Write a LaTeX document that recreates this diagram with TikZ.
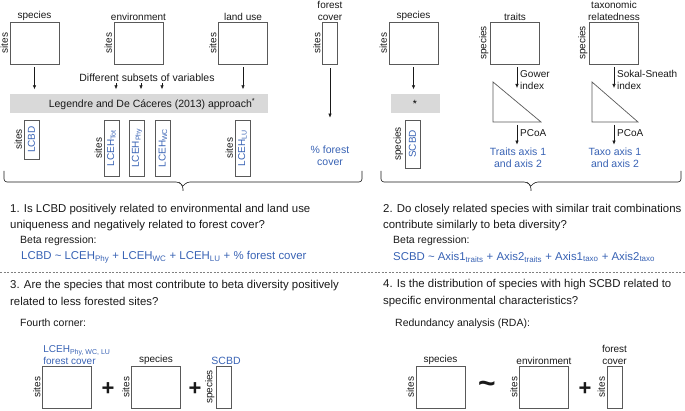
\documentclass[tikz,border=0pt]{standalone}
\usepackage{fontspec}
\setmainfont{Liberation Sans}
\usepackage{tikz}
\usetikzlibrary{positioning,calc,arrows.meta}

\definecolor{axblue}{RGB}{56,98,180}
\definecolor{bargray}{RGB}{217,217,217}
\definecolor{boxline}{RGB}{89,89,89}
\definecolor{inkgray}{RGB}{25,25,25}

\newcommand{\lblsize}{\fontsize{10}{11.5}\selectfont}
\newcommand{\qsize}{\fontsize{11.4}{16.5}\selectfont}
\newcommand{\notesize}{\fontsize{10.5}{12}\selectfont}
\newcommand{\opsize}{\fontsize{22}{22}\selectfont\bfseries}

\tikzset{
  mat/.style={draw=boxline, line width=0.7pt, minimum width=49pt, minimum height=42pt, inner sep=0pt},
  colmat/.style={mat, minimum width=15pt},
  vecbox/.style={draw=boxline, line width=0.7pt, rotate=90, minimum height=15pt, inner sep=0pt, text=axblue, font=\lblsize},
  side/.style={rotate=90, anchor=south, inner sep=1.5pt, font=\lblsize, text=inkgray},
  hdr/.style={font=\lblsize, text=inkgray, inner sep=1pt, align=center},
  bluetxt/.style={text=axblue},
  arr/.style={draw=inkgray, line width=0.6pt, -{Latex[length=4pt,width=3.5pt]}},
  graybar/.style={fill=bargray, inner sep=0pt, minimum height=19pt},
  tri/.style={draw=boxline, line width=0.7pt},
  brc/.style={draw=inkgray, line width=0.6pt, rounded corners=3pt},
  qtext/.style={font=\qsize, text=inkgray, align=left, anchor=west, inner sep=0pt},
  note/.style={font=\notesize, text=inkgray, anchor=west, inner sep=0pt},
  opsign/.style={font=\opsize, text=inkgray, inner sep=0pt}
}

\begin{document}
\begin{tikzpicture}[x=1pt,y=-1pt]
    \useasboundingbox (0,0) rectangle (685,411);

    % Input matrices, left half
    \node[mat] (spA) at (34.5,43) {};
    \node[mat] (envA) at (138.5,43) {};
    \node[mat] (luA) at (243,43) {};
    \node[colmat] (fcA) at (330,43) {};
    \node[hdr, above=0pt of spA] (spAh) {species};
    \node[hdr, above=0pt of envA] (envAh) {environment};
    \node[hdr, above=0pt of luA] (luAh) {land use};
    \node[hdr, above=0pt of fcA] (fcAh) {forest\\cover};
    \foreach \m in {spA,envA,luA,fcA} \node[side] (\m-s) at (\m.west) {sites};

    % Uniqueness approach
    \node[graybar, minimum width=258pt] (lgA) at (139,104) {};
    \node[font=\notesize, text=inkgray, inner sep=0pt] (lgAt) at (152,104) {Legendre and De Cáceres (2013) approach\textsuperscript{*}};
    \node[hdr, font=\notesize] (subs) at (147,78) {Different subsets of variables};
    \draw[arr, shorten <=3pt, shorten >=5pt] (spA) -- (spA |- lgA.north);
    \draw[arr, shorten <=3pt, shorten >=5pt] (luA) -- (luA |- lgA.north);
    \foreach \dx in {-31,-6,15}
        \draw[arr, shorten >=5pt] ([xshift=\dx pt]subs.south) -- ([xshift=\dx pt]subs.south |- lgA.north);

    % Site vectors (rotated nodes: north points left)
    \node[vecbox, minimum width=39pt] (lcbd) at (31.5,139.5) {LCBD};
    \node[vecbox, minimum width=56pt] (lceT) at (111.5,148) {LCEH\textsubscript{Tot}};
    \node[vecbox, minimum width=56pt] (lceP) at (137,148) {LCEH\textsubscript{Phy}};
    \node[vecbox, minimum width=56pt] (lceW) at (163,148) {LCEH\textsubscript{WC}};
    \node[vecbox, minimum width=56pt] (lceL) at (242.5,148) {LCEH\textsubscript{LU}};
    \foreach \m in {lcbd,lceT,lceL} \node[side] (\m-s) at (\m.north) {sites};
    \node[bluetxt, font=\notesize, align=center] (pfc) at (330,156) {\% forest\\cover};
    \draw[arr, shorten <=4pt, shorten >=2pt] (fcA) -- (fcA |- lcbd.east);

    % Input matrices, right half
    \node[mat] (spB) at (413.5,43) {};
    \node[hdr, above=0pt of spB] (spBh) {species};
    \node[side] (spB-s) at (spB.west) {sites};
    \node[graybar, minimum width=49pt, font=\notesize] (starB) at (415,104) {*};
    \draw[arr, shorten <=3pt, shorten >=5pt] (spB) -- (spB |- starB.north);
    \node[vecbox, minimum width=48pt] (scbd) at (412.5,144) {SCBD};
    \node[side] (scbd-s) at (scbd.north) {species};

    % Traits
    \node[mat] (trB) at (515,43) {};
    \node[hdr, above=0pt of trB] (trBh) {traits};
    \node[side] (trB-s) at (trB.west) {species};
    \coordinate (t1a) at (493,82);
    \coordinate (t1b) at (493,122);
    \coordinate (t1c) at (541,122);
    \draw[tri] (t1a) -- (t1b) -- (t1c) -- cycle;
    \coordinate (g1) at (517,88);
    \draw[arr, shorten <=3pt] (trB.south -| g1) -- (g1);
    \node[hdr, anchor=west, align=left] (g1l) at (519,80) {Gower\\index};
    \node[bluetxt, font=\notesize, align=center] (ax1) at (518,158) {Traits axis 1\\and axis 2};
    \coordinate (p1) at (517,125);
    \draw[arr] (p1) -- (ax1.north -| p1);
    \node[hdr, anchor=west] (p1l) at (519,133) {PCoA};

    % Taxonomic relatedness
    \node[mat] (txB) at (614,43) {};
    \node[hdr, above=0pt of txB] (txBh) {taxonomic\\relatedness};
    \node[side] (txB-s) at (txB.west) {species};
    \coordinate (t2a) at (592,82);
    \coordinate (t2b) at (592,122);
    \coordinate (t2c) at (638,122);
    \draw[tri] (t2a) -- (t2b) -- (t2c) -- cycle;
    \coordinate (g2) at (614,88);
    \draw[arr, shorten <=3pt] (txB.south -| g2) -- (g2);
    \node[hdr, anchor=west, align=left] (g2l) at (616,80) {Sokal-Sneath\\index};
    \node[bluetxt, font=\notesize, align=center] (ax2) at (615,158) {Taxo axis 1\\and axis 2};
    \coordinate (p2) at (614,125);
    \draw[arr] (p2) -- (ax2.north -| p2);
    \node[hdr, anchor=west] (p2l) at (616,133) {PCoA};

    % Braces
    \draw[brc] (4,171) -- (4,182) -- (179,182) -- (183,186) -- (183,191);
    \draw[brc] (183,186) -- (187,182) -- (362,182) -- (362,171);
    \draw[brc] (381,171) -- (381,182) -- (527,182) -- (531,186) -- (531,191);
    \draw[brc] (531,186) -- (535,182) -- (681,182) -- (681,171);

    % Questions 1 and 2
    \node[qtext] (q1) at (10,217.5) {1. Is LCBD positively related to environmental and land use\\uniqueness and negatively related to forest cover?};
    \node[note] (q1m) at (20,241) {Beta regression:};
    \node[note, font=\qsize, bluetxt] (q1e) at (21,257) {LCBD \textasciitilde\ LCEH\textsubscript{Phy} + LCEH\textsubscript{WC} + LCEH\textsubscript{LU} + \% forest cover};
    \node[qtext] (q2) at (383,217.5) {2. Do closely related species with similar trait combinations\\contribute similarly to beta diversity?};
    \node[note] (q2m) at (393,241) {Beta regression:};
    \node[note, font=\qsize, bluetxt] (q2e) at (393,257) {SCBD \textasciitilde\ Axis1\textsubscript{traits} + Axis2\textsubscript{traits} + Axis1\textsubscript{taxo} + Axis2\textsubscript{taxo}};

    \draw[draw=gray, line width=0.5pt, dash pattern=on 2pt off 1.5pt] (0,272) -- (685,272);

    % Questions 3 and 4
    \node[qtext] (q3) at (10,293) {3. Are the species that most contribute to beta diversity positively\\related to less forested sites?};
    \node[note] (q3m) at (20,323) {Fourth corner:};
    \node[qtext] (q4) at (383,293) {4. Is the distribution of species with high SCBD related to\\specific environmental characteristics?};
    \node[note] (q4m) at (395,324) {Redundancy analysis (RDA):};

    % Fourth corner
    \node[mat] (fcC) at (67,387) {};
    \node[side] (fcC-s) at (fcC.west) {sites};
    \node[bluetxt, font=\lblsize, anchor=south west, align=left, inner sep=1pt] (fcCh) at (fcC.north west) {LCEH\textsubscript{Phy, WC, LU}\\forest cover};
    \node[opsign] (plC1) at (108,389) {+};
    \node[mat] (spC) at (156,387) {};
    \node[hdr, above=0pt of spC] (spCh) {species};
    \node[side] (spC-s) at (spC.west) {sites};
    \node[opsign] (plC2) at (195,389) {+};
    \node[colmat] (scC) at (224,387) {};
    \node[hdr, bluetxt, font=\notesize, above=0pt of scC, xshift=2pt] (scCh) {SCBD};
    \node[side] (scC-s) at (scC.west) {species};

    % RDA
    \node[mat] (spD) at (440.5,387) {};
    \node[hdr, above=0pt of spD] (spDh) {species};
    \node[side] (spD-s) at (spD.west) {sites};
    \node[opsign, font=\fontsize{30}{30}\selectfont\bfseries] (tlD) at (487,387) {\textasciitilde};
    \node[mat] (envD) at (544,387) {};
    \node[hdr, above=0pt of envD] (envDh) {environment};
    \node[side] (envD-s) at (envD.west) {sites};
    \node[opsign] (plD) at (585,389) {+};
    \node[colmat] (fcD) at (614.5,387) {};
    \node[hdr, above=0pt of fcD] (fcDh) {forest\\cover};
    \node[side] (fcD-s) at (fcD.west) {sites};
\end{tikzpicture}
\end{document}
